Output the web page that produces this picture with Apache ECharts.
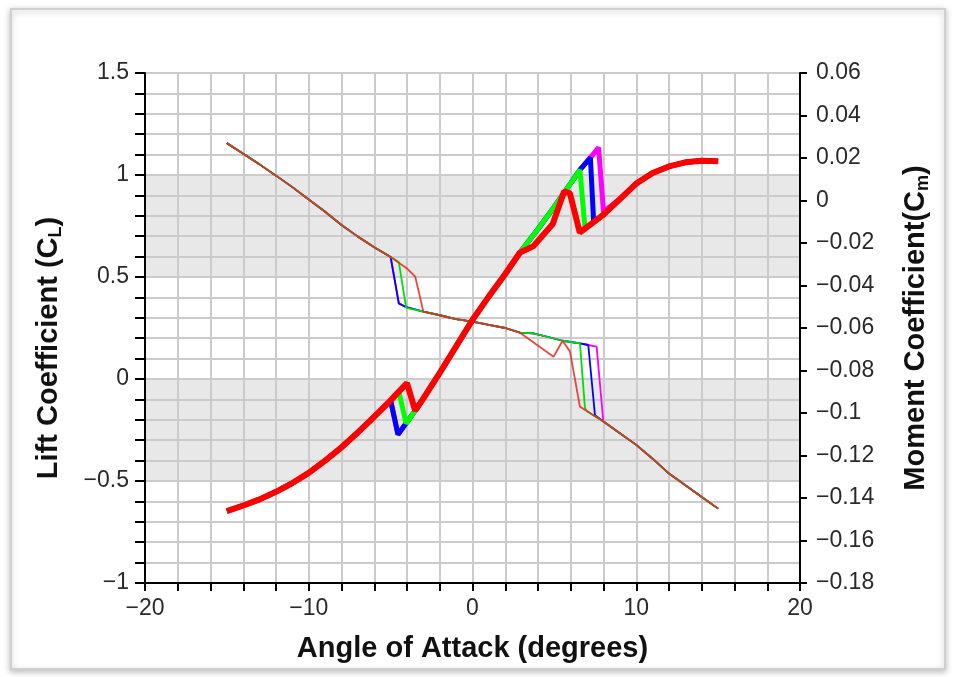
<!DOCTYPE html>
<html><head><meta charset="utf-8">
<script src="https://cdn.jsdelivr.net/npm/echarts@6/dist/echarts.min.js"></script>
<style>html,body{margin:0;padding:0;background:#fff}#c{width:954px;height:677px}</style>
</head><body><div id="c"></div><script>
// ---- data (angle of attack in degrees, coefficient) ----
const liftMagenta = [[-15,-0.648],[-14,-0.62],[-13,-0.59],[-12,-0.553],[-11,-0.51],[-10,-0.46],[-9,-0.40],[-8,-0.335],[-7,-0.262],[-6,-0.185],[-5,-0.105],[-4.55,-0.272],[-3.5,-0.155],[-3,-0.095],[-2,0.03],[-1,0.16],[0,0.29],[1,0.405],[2,0.515],[2.9,0.62],[4,0.735],[5,0.845],[6,0.96],[6.56,1.025],[7.2,1.085],[7.7,1.135],[8.0,0.82],[9,0.882],[10,0.958],[11,1.01],[12,1.042],[13,1.062],[14,1.07],[15,1.068]];
const liftBlue = [[-15,-0.648],[-14,-0.62],[-13,-0.59],[-12,-0.553],[-11,-0.51],[-10,-0.46],[-9,-0.40],[-8,-0.335],[-7,-0.262],[-6,-0.185],[-5,-0.105],[-4.55,-0.272],[-3.5,-0.155],[-3,-0.095],[-2,0.03],[-1,0.16],[0,0.29],[1,0.405],[2,0.515],[2.9,0.62],[4,0.735],[5,0.845],[6,0.96],[6.56,1.025],[7.2,1.085],[7.4,0.768],[7.5,0.775],[8,0.806],[9,0.882],[10,0.958],[11,1.01],[12,1.042],[13,1.062],[14,1.07],[15,1.068]];
const liftGreen = [[-15,-0.648],[-14,-0.62],[-13,-0.59],[-12,-0.553],[-11,-0.51],[-10,-0.46],[-9,-0.40],[-8,-0.335],[-7,-0.262],[-6,-0.185],[-5,-0.105],[-4.5,-0.062],[-4.05,-0.218],[-3.5,-0.155],[-3,-0.095],[-2,0.03],[-1,0.16],[0,0.29],[1,0.405],[2,0.515],[2.9,0.62],[4,0.735],[5,0.845],[6,0.96],[6.56,1.025],[6.87,0.74],[7,0.745],[7.5,0.775],[8,0.806],[9,0.882],[10,0.958],[11,1.01],[12,1.042],[13,1.062],[14,1.07],[15,1.068]];
const liftRed = [[-15,-0.648],[-14,-0.62],[-13,-0.59],[-12,-0.553],[-11,-0.51],[-10,-0.46],[-9,-0.40],[-8,-0.335],[-7,-0.262],[-6,-0.185],[-5,-0.105],[-4.5,-0.062],[-4,-0.02],[-3.5,-0.155],[-3,-0.095],[-2,0.03],[-1,0.16],[0,0.29],[1,0.405],[2,0.515],[2.9,0.62],[3.7,0.65],[4.9,0.76],[5.6,0.92],[5.95,0.91],[6.55,0.718],[7,0.745],[7.5,0.775],[8,0.806],[9,0.882],[10,0.958],[11,1.01],[12,1.042],[13,1.062],[14,1.07],[15,1.068]];

const momMagenta = [[-15,0.027],[-14,0.022],[-13,0.017],[-12,0.0117],[-11,0.0063],[-10,0.0005],[-9,-0.0053],[-8,-0.0115],[-7,-0.017],[-6,-0.022],[-5,-0.0266],[-4.5,-0.0484],[-4.1,-0.050],[-3,-0.0523],[-2,-0.054],[-1,-0.0558],[0,-0.057],[1,-0.0585],[2,-0.060],[2.9,-0.0622],[3.7,-0.0625],[4.5,-0.064],[5.5,-0.066],[6.56,-0.0672],[7.07,-0.068],[7.58,-0.0688],[7.99,-0.104],[9,-0.1095],[10,-0.115],[11,-0.1215],[12,-0.1285],[13,-0.134],[14,-0.1395],[15,-0.145]];
const momBlue = [[-15,0.027],[-14,0.022],[-13,0.017],[-12,0.0117],[-11,0.0063],[-10,0.0005],[-9,-0.0053],[-8,-0.0115],[-7,-0.017],[-6,-0.022],[-5,-0.0266],[-4.5,-0.0484],[-4.1,-0.050],[-3,-0.0523],[-2,-0.054],[-1,-0.0558],[0,-0.057],[1,-0.0585],[2,-0.060],[2.9,-0.0622],[3.7,-0.0625],[4.5,-0.064],[5.5,-0.066],[6.56,-0.0672],[7.07,-0.068],[7.48,-0.101],[8,-0.104],[9,-0.1095],[10,-0.115],[11,-0.1215],[12,-0.1285],[13,-0.134],[14,-0.1395],[15,-0.145]];
const momGreen = [[-15,0.027],[-14,0.022],[-13,0.017],[-12,0.0117],[-11,0.0063],[-10,0.0005],[-9,-0.0053],[-8,-0.0115],[-7,-0.017],[-6,-0.022],[-5,-0.0266],[-4.5,-0.029],[-4.05,-0.0505],[-3,-0.0523],[-2,-0.054],[-1,-0.0558],[0,-0.057],[1,-0.0585],[2,-0.060],[2.9,-0.0622],[3.7,-0.0625],[4.5,-0.064],[5.5,-0.066],[6.56,-0.0672],[6.87,-0.0978],[7,-0.0992],[7.5,-0.1016],[8,-0.104],[9,-0.1095],[10,-0.115],[11,-0.1215],[12,-0.1285],[13,-0.134],[14,-0.1395],[15,-0.145]];
const momRed = [[-15,0.027],[-14,0.022],[-13,0.017],[-12,0.0117],[-11,0.0063],[-10,0.0005],[-9,-0.0053],[-8,-0.0115],[-7,-0.017],[-6,-0.022],[-5,-0.0266],[-4,-0.032],[-3.5,-0.0358],[-3,-0.0523],[-2,-0.054],[-1,-0.0558],[0,-0.057],[1,-0.0585],[2,-0.060],[2.9,-0.0622],[4.95,-0.0735],[5.5,-0.066],[5.95,-0.071],[6.56,-0.097],[7,-0.0992],[7.5,-0.1016],[8,-0.104],[9,-0.1095],[10,-0.115],[11,-0.1215],[12,-0.1285],[13,-0.134],[14,-0.1395],[15,-0.145]];

const grayBands = [[0.5, 1.0], [-0.5, 0.0]];
const xTitle = 'Angle of Attack (degrees)';
const yLeftTitle = ['Lift Coefficient (C', 'L', ')'];
const yRightTitle = ['Moment Coefficient(C', 'm', ')'];

// ---- chart ----
const minus = s => String(s).replace('-', '\u2212');
const labelFont = { fontFamily: 'Liberation Sans', fontSize: 23, color: '#2a2a2a' };
const nameRich = {
  n: { fontFamily: 'Liberation Sans', fontSize: 29, fontWeight: 'bold', color: '#111' },
  s: { fontFamily: 'Liberation Sans', fontSize: 18, fontWeight: 'bold', color: '#111', padding: [14, 0, 0, 0] }
};
const gridLine = { show: true, lineStyle: { color: '#cbcbcb', width: 2 } };

function lineSeries(data, color, width, yIdx, opacity, extra) {
  return Object.assign({
    type: 'line', data: data, yAxisIndex: yIdx, showSymbol: false, symbol: 'none',
    silent: true, animation: false,
    lineStyle: { color: color, width: width, opacity: opacity }
  }, extra || {});
}

const chart = echarts.init(document.getElementById('c'), null, { renderer: 'canvas' });
chart.setOption({
  animation: false,
  backgroundColor: '#ffffff',
  graphic: [{
    type: 'rect', left: 10, top: 8, z: -10, silent: true,
    shape: { width: 934, height: 660 },
    style: { fill: '#ffffff', stroke: '#cfcfcf', lineWidth: 2, shadowBlur: 6, shadowColor: 'rgba(0,0,0,0.25)', shadowOffsetY: 2 }
  }],
  grid: { left: 145, right: 154, top: 73, bottom: 94, show: true, borderColor: '#000', borderWidth: 2, backgroundColor: 'transparent' },
  xAxis: {
    type: 'value', min: -20, max: 20, interval: 2, z: 1.5,
    name: xTitle, nameLocation: 'middle', nameGap: 51,
    nameTextStyle: { fontFamily: 'Liberation Sans', fontSize: 29, fontWeight: 'bold', color: '#111' },
    axisLine: { show: true, onZero: false, lineStyle: { color: '#000', width: 2 } },
    axisTick: { show: true, inside: false, length: 8, lineStyle: { color: '#000', width: 2 } },
    axisLabel: Object.assign({ margin: 14, formatter: v => (Math.abs(v % 10) < 1e-9 ? minus(v) : '') }, labelFont),
    splitLine: gridLine
  },
  yAxis: [{
    type: 'value', min: -1, max: 1.5, interval: 0.1, position: 'left', z: 1.5,
    name: '{n|' + yLeftTitle[0] + '}{s|' + yLeftTitle[1] + '}{n|' + yLeftTitle[2] + '}',
    nameLocation: 'middle', nameRotate: 90, nameGap: 80,
    nameTextStyle: { rich: nameRich, padding: [0, 40, 0, 0] },
    axisLine: { show: true, onZero: false, lineStyle: { color: '#000', width: 2 } },
    axisTick: { show: true, inside: false, length: 10, lineStyle: { color: '#000', width: 2 } },
    axisLabel: Object.assign({ margin: 16, formatter: v => {
      if (Math.abs(v * 2 - Math.round(v * 2)) > 1e-6) return '';
      return minus(Math.round(v * 10) / 10);
    } }, labelFont),
    splitLine: gridLine
  }, {
    type: 'value', min: -0.18, max: 0.06, interval: 0.02, position: 'right', z: 1.5,
    name: '{n|' + yRightTitle[0] + '}{s|' + yRightTitle[1] + '}{n|' + yRightTitle[2] + '}',
    nameLocation: 'middle', nameRotate: 90, nameGap: 100,
    nameTextStyle: { rich: nameRich },
    axisLine: { show: true, onZero: false, lineStyle: { color: '#000', width: 2 } },
    axisTick: { show: true, inside: false, length: 7, lineStyle: { color: '#000', width: 2 } },
    axisLabel: Object.assign({ margin: 16, showMinLabel: true, showMaxLabel: true,
      formatter: v => minus(Math.round(v * 100) / 100) }, labelFont),
    splitLine: { show: false }
  }],
  series: [
    lineSeries(momMagenta, '#ff00ff', 1.8, 1, 1),
    lineSeries(momBlue, '#0000ff', 1.8, 1, 1),
    lineSeries(momGreen, '#00e000', 1.8, 1, 1),
    lineSeries(momRed, '#e8281e', 1.8, 1, 0.85),
    lineSeries(liftMagenta, '#ff00ff', 5, 0, 1, {
      markArea: { silent: true, itemStyle: { color: '#e8e8e8' },
        data: grayBands.map(b => [{ yAxis: b[0] }, { yAxis: b[1] }]) }
    }),
    lineSeries(liftBlue, '#0000ff', 5, 0, 1),
    lineSeries(liftGreen, '#00ff00', 5, 0, 1),
    lineSeries(liftRed, '#ff0000', 6, 0, 1)
  ]
});
</script></body></html>
